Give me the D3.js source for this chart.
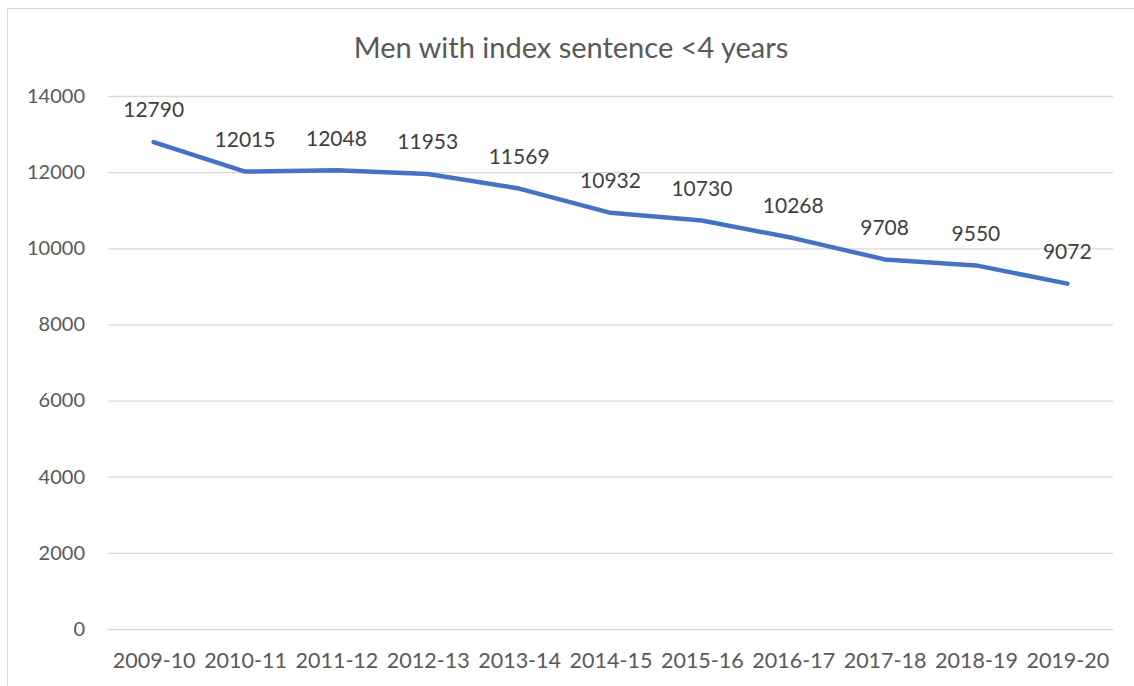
<!DOCTYPE html>
<html><head><meta charset="utf-8">
<script src="https://cdn.jsdelivr.net/npm/d3@7"></script>
<style>body{margin:0;background:#fff;} text{font-family:Lato,"Open Sans",sans-serif;}</style>
</head><body>
<svg id="c" width="1134" height="686"></svg>
<script>
const categories = ["2009-10","2010-11","2011-12","2012-13","2013-14","2014-15","2015-16","2016-17","2017-18","2018-19","2019-20"];
const values = [12790,12015,12048,11953,11569,10932,10730,10268,9708,9550,9072];
const yTicks = [0,2000,4000,6000,8000,10000,12000,14000];
const title = "Men with index sentence <4 years";

const svg = d3.select("#c");
svg.append("rect").attr("x",7.5).attr("y",8.5).attr("width",1140).attr("height",700)
  .attr("fill","#fff").attr("stroke","#d9d9d9");

const x = d3.scalePoint().domain(categories).range([108,1113]).padding(0.5);
const y = d3.scaleLinear().domain([0,14000]).range([629,96]);

svg.append("text").attr("x",571).attr("y",58).attr("text-anchor","middle")
  .attr("font-size",29).attr("fill","#595959").text(title);

const gy = svg.append("g").attr("transform","translate(108,0)")
  .call(d3.axisLeft(y).tickValues(yTicks).tickSize(-1005).tickFormat(d3.format("d")));
gy.select(".domain").remove();
gy.selectAll("line").attr("stroke","#d9d9d9").attr("stroke-width",1.3);
gy.selectAll("text").attr("x",-23).attr("font-size",20).attr("fill","#595959");

const gx = svg.append("g").attr("transform","translate(0,629)")
  .call(d3.axisBottom(x).tickSize(0));
gx.select(".domain").remove();
gx.selectAll("text").attr("y",24).attr("dy","0.71em").attr("font-size",21.5).attr("fill","#595959");

const line = d3.line().x((d,i)=>x(categories[i])).y(d=>y(d));
svg.append("path").datum(values).attr("d",line).attr("fill","none")
  .attr("stroke","#4472C4").attr("stroke-width",4.5).attr("stroke-linecap","round").attr("stroke-linejoin","round");

svg.selectAll(".lbl").data(values).enter().append("text").attr("class","lbl")
  .attr("x",(d,i)=>x(categories[i])).attr("y",d=>y(d)-32).attr("dy","0.35em")
  .attr("text-anchor","middle").attr("font-size",21).attr("fill","#404040").text(d=>d);
</script>
</body></html>
